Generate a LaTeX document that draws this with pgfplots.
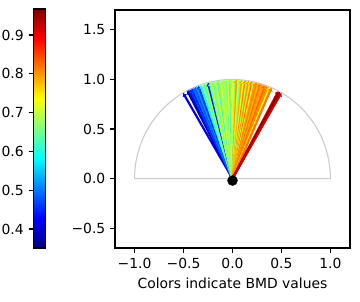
\documentclass[border=0pt]{standalone}
\usepackage{pgfplots}
\pgfplotsset{compat=1.18}
\usepackage{pgfplotstable}
\usepackage{fontspec}
\setmainfont{DejaVu Sans}
\usetikzlibrary{arrows.meta}
\pgfplotstableread{
x y u v c
0 0 -0.5045 0.8634 0.42
0 0 -0.4617 0.8870 0.351
0 0 -0.4509 0.8926 0.40
0 0 -0.4384 0.8988 0.44
0 0 -0.4258 0.9048 0.47
0 0 -0.4147 0.9100 0.45
0 0 -0.3987 0.9171 0.50
0 0 -0.3827 0.9239 0.48
0 0 -0.3665 0.9304 0.52
0 0 -0.3502 0.9367 0.46
0 0 -0.3256 0.9455 0.60
0 0 -0.3007 0.9537 0.66
0 0 -0.2840 0.9588 0.63
0 0 -0.2672 0.9636 0.68
0 0 -0.2504 0.9681 0.44
0 0 -0.2334 0.9724 0.64
0 0 -0.2164 0.9763 0.70
0 0 -0.1994 0.9799 0.65
0 0 -0.1822 0.9833 0.67
0 0 -0.1650 0.9863 0.71
0 0 -0.1478 0.9890 0.62
0 0 -0.1305 0.9914 0.68
0 0 -0.1132 0.9936 0.72
0 0 -0.0958 0.9954 0.66
0 0 -0.0785 0.9969 0.69
0 0 -0.0610 0.9981 0.65
0 0 -0.0436 0.9990 0.72
0 0 -0.0262 0.9997 0.63
0 0 -0.0087 1.0000 0.70
0 0 0.0087 1.0000 0.74
0 0 0.0262 0.9997 0.67
0 0 0.0436 0.9990 0.80
0 0 0.0610 0.9981 0.71
0 0 0.0785 0.9969 0.66
0 0 0.0958 0.9954 0.79
0 0 0.1132 0.9936 0.73
0 0 0.1305 0.9914 0.81
0 0 0.1478 0.9890 0.69
0 0 0.1650 0.9863 0.80
0 0 0.1822 0.9833 0.75
0 0 0.1994 0.9799 0.82
0 0 0.2164 0.9763 0.70
0 0 0.2334 0.9724 0.80
0 0 0.2504 0.9681 0.81
0 0 0.2672 0.9636 0.78
0 0 0.2840 0.9588 0.82
0 0 0.3007 0.9537 0.80
0 0 0.3173 0.9483 0.79
0 0 0.3338 0.9426 0.83
0 0 0.3502 0.9367 0.81
0 0 0.3665 0.9304 0.80
0 0 0.3827 0.9239 0.72
0 0 0.3987 0.9171 0.82
0 0 0.4695 0.8829 0.93
0 0 0.4848 0.8746 0.967
0 0 0.5000 0.8660 0.92
}\arrows
\begin{document}
\fontsize{13.9}{16.7}\selectfont
\begin{tikzpicture}
\path[use as bounding box] (-115pt,-53pt) rectangle (245pt,248pt);
\begin{axis}[
  at={(0,0)}, anchor=south west,
  scale only axis, width=235pt, height=238pt,
  xmin=-1.2, xmax=1.2, ymin=-0.7, ymax=1.7,
  axis line style={line width=1.1pt},
  tick align=outside, major tick length=4.9pt,
  tick style={line width=1.1pt, black},
  xtick={-1,-0.5,0,0.5,1}, xticklabels={−1.0,−0.5,0.0,0.5,1.0},
  ytick={-0.5,0,0.5,1,1.5}, yticklabels={−0.5,0.0,0.5,1.0,1.5},
  xtick pos=bottom, ytick pos=left,
  xlabel={Colors indicate BMD values},
  colormap/jet,
  point meta min=0.351, point meta max=0.967,
  colorbar left,
  colorbar style={
    at={(parent axis.south west)}, anchor=south east, xshift=-61pt,
    scale only axis, width=12pt, height=239pt,
    ytick={0.4,0.5,0.6,0.7,0.8,0.9},
    yticklabels={0.4,0.5,0.6,0.7,0.8,0.9},
    ytick pos=left, yticklabel pos=left,
    tick align=outside, major tick length=4.9pt,
    tick style={line width=1.1pt, black},
    axis line style={line width=1.1pt},
  },
]
\draw[color=black!20, line width=1.1pt] (axis cs:-1,0) -- (axis cs:1,0) arc[start angle=0, end angle=180, x radius=97.92pt, y radius=99.17pt];
\addplot[only marks, mark=*, mark size=5pt, black] coordinates {(0,-0.02)};
\addplot[quiver={u=\thisrow{u}, v=\thisrow{v}, colored}, point meta=\thisrow{c},
  -{Latex[length=3.5pt,width=5.5pt]}, line width=2.2pt] table[x=x,y=y] {\arrows};
\end{axis}
\end{tikzpicture}
\end{document}
